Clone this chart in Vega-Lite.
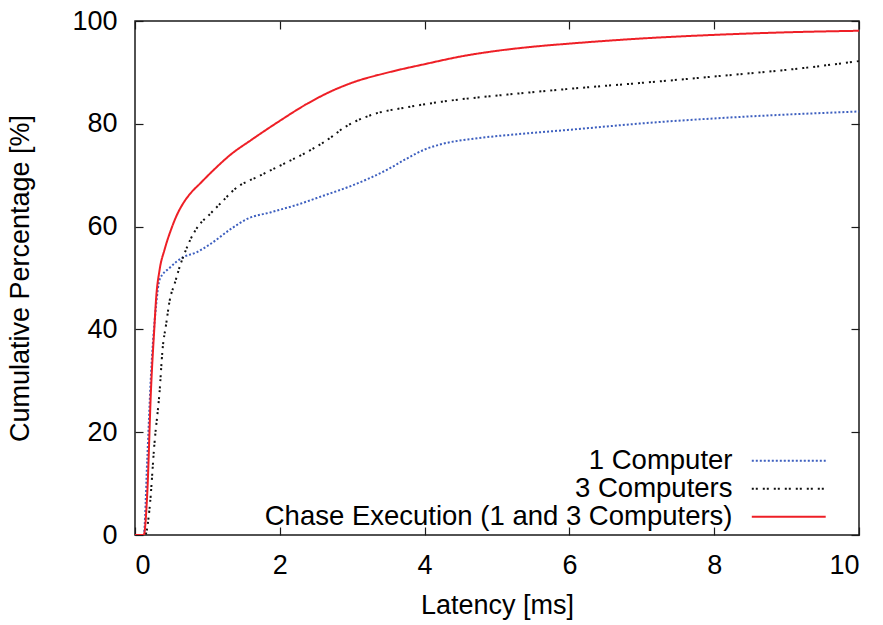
{
  "$schema": "https://vega.github.io/schema/vega-lite/v6.json",
  "width": 724,
  "height": 514,
  "autosize": {"type": "none"},
  "padding": {"left": 135, "top": 21, "right": 24, "bottom": 90},
  "background": "white",
  "config": {
    "font": "Liberation Sans",
    "view": {"stroke": "#1a1a1a", "strokeWidth": 1.5},
    "axis": {
      "grid": false,
      "domain": false,
      "tickSize": -8,
      "tickColor": "#1a1a1a",
      "tickWidth": 1.2,
      "labelFont": "Liberation Sans",
      "labelFontSize": 27,
      "labelColor": "black",
      "titleFont": "Liberation Sans",
      "titleFontSize": 27,
      "titleFontWeight": "normal",
      "titleColor": "black"
    }
  },
  "data": {
    "values": [
      {"series": "1 Computer", "latency": 0, "pct": 0},
      {"series": "1 Computer", "latency": 0.12, "pct": 0},
      {"series": "1 Computer", "latency": 0.17, "pct": 15},
      {"series": "1 Computer", "latency": 0.22, "pct": 31},
      {"series": "1 Computer", "latency": 0.29, "pct": 44.5},
      {"series": "1 Computer", "latency": 0.34, "pct": 49.7},
      {"series": "1 Computer", "latency": 0.48, "pct": 52},
      {"series": "1 Computer", "latency": 0.66, "pct": 54},
      {"series": "1 Computer", "latency": 0.85, "pct": 55},
      {"series": "1 Computer", "latency": 1.04, "pct": 56.6},
      {"series": "1 Computer", "latency": 1.32, "pct": 59.5},
      {"series": "1 Computer", "latency": 1.55, "pct": 61.5},
      {"series": "1 Computer", "latency": 1.88, "pct": 62.8},
      {"series": "1 Computer", "latency": 2.25, "pct": 64.3},
      {"series": "1 Computer", "latency": 2.6, "pct": 66},
      {"series": "1 Computer", "latency": 3.0, "pct": 68},
      {"series": "1 Computer", "latency": 3.5, "pct": 71.2},
      {"series": "1 Computer", "latency": 3.75, "pct": 73.2},
      {"series": "1 Computer", "latency": 4.0, "pct": 75},
      {"series": "1 Computer", "latency": 4.25, "pct": 76.1},
      {"series": "1 Computer", "latency": 4.74, "pct": 77.2},
      {"series": "1 Computer", "latency": 5.3, "pct": 78},
      {"series": "1 Computer", "latency": 5.97, "pct": 78.8},
      {"series": "1 Computer", "latency": 7.2, "pct": 80.3},
      {"series": "1 Computer", "latency": 8.44, "pct": 81.4},
      {"series": "1 Computer", "latency": 10, "pct": 82.4},
      {"series": "3 Computers", "latency": 0, "pct": 0},
      {"series": "3 Computers", "latency": 0.14, "pct": 0},
      {"series": "3 Computers", "latency": 0.2, "pct": 5},
      {"series": "3 Computers", "latency": 0.27, "pct": 18},
      {"series": "3 Computers", "latency": 0.34, "pct": 28},
      {"series": "3 Computers", "latency": 0.38, "pct": 36},
      {"series": "3 Computers", "latency": 0.43, "pct": 41},
      {"series": "3 Computers", "latency": 0.48, "pct": 45.7},
      {"series": "3 Computers", "latency": 0.55, "pct": 49},
      {"series": "3 Computers", "latency": 0.62, "pct": 52.3},
      {"series": "3 Computers", "latency": 0.69, "pct": 55},
      {"series": "3 Computers", "latency": 0.78, "pct": 57.9},
      {"series": "3 Computers", "latency": 0.88, "pct": 60.2},
      {"series": "3 Computers", "latency": 1.04, "pct": 62.5},
      {"series": "3 Computers", "latency": 1.2, "pct": 64.8},
      {"series": "3 Computers", "latency": 1.37, "pct": 67.2},
      {"series": "3 Computers", "latency": 1.74, "pct": 70},
      {"series": "3 Computers", "latency": 2.11, "pct": 72.6},
      {"series": "3 Computers", "latency": 2.44, "pct": 75},
      {"series": "3 Computers", "latency": 2.72, "pct": 77.5},
      {"series": "3 Computers", "latency": 2.86, "pct": 79},
      {"series": "3 Computers", "latency": 3.26, "pct": 81.7},
      {"series": "3 Computers", "latency": 3.75, "pct": 83.2},
      {"series": "3 Computers", "latency": 4.24, "pct": 84.3},
      {"series": "3 Computers", "latency": 5.23, "pct": 85.8},
      {"series": "3 Computers", "latency": 6, "pct": 86.8},
      {"series": "3 Computers", "latency": 7.2, "pct": 88.2},
      {"series": "3 Computers", "latency": 8, "pct": 89.2},
      {"series": "3 Computers", "latency": 9.2, "pct": 90.8},
      {"series": "3 Computers", "latency": 10, "pct": 92.2},
      {"series": "Chase Execution (1 and 3 Computers)", "latency": 0, "pct": 0},
      {"series": "Chase Execution (1 and 3 Computers)", "latency": 0.12, "pct": 0},
      {"series": "Chase Execution (1 and 3 Computers)", "latency": 0.17, "pct": 8.3},
      {"series": "Chase Execution (1 and 3 Computers)", "latency": 0.22, "pct": 28},
      {"series": "Chase Execution (1 and 3 Computers)", "latency": 0.27, "pct": 41},
      {"series": "Chase Execution (1 and 3 Computers)", "latency": 0.29, "pct": 45.7},
      {"series": "Chase Execution (1 and 3 Computers)", "latency": 0.34, "pct": 51.6},
      {"series": "Chase Execution (1 and 3 Computers)", "latency": 0.41, "pct": 55.6},
      {"series": "Chase Execution (1 and 3 Computers)", "latency": 0.5, "pct": 59.5},
      {"series": "Chase Execution (1 and 3 Computers)", "latency": 0.58, "pct": 62.3},
      {"series": "Chase Execution (1 and 3 Computers)", "latency": 0.66, "pct": 64.4},
      {"series": "Chase Execution (1 and 3 Computers)", "latency": 0.75, "pct": 66.2},
      {"series": "Chase Execution (1 and 3 Computers)", "latency": 0.9, "pct": 68.4},
      {"series": "Chase Execution (1 and 3 Computers)", "latency": 1.1, "pct": 71.2},
      {"series": "Chase Execution (1 and 3 Computers)", "latency": 1.32, "pct": 74},
      {"series": "Chase Execution (1 and 3 Computers)", "latency": 1.6, "pct": 76.8},
      {"series": "Chase Execution (1 and 3 Computers)", "latency": 1.97, "pct": 80.3},
      {"series": "Chase Execution (1 and 3 Computers)", "latency": 2.39, "pct": 84},
      {"series": "Chase Execution (1 and 3 Computers)", "latency": 2.72, "pct": 86.4},
      {"series": "Chase Execution (1 and 3 Computers)", "latency": 3.0, "pct": 88},
      {"series": "Chase Execution (1 and 3 Computers)", "latency": 3.5, "pct": 90},
      {"series": "Chase Execution (1 and 3 Computers)", "latency": 4.0, "pct": 91.6},
      {"series": "Chase Execution (1 and 3 Computers)", "latency": 4.5, "pct": 93.1},
      {"series": "Chase Execution (1 and 3 Computers)", "latency": 5.0, "pct": 94.2},
      {"series": "Chase Execution (1 and 3 Computers)", "latency": 5.5, "pct": 95.0},
      {"series": "Chase Execution (1 and 3 Computers)", "latency": 6, "pct": 95.6},
      {"series": "Chase Execution (1 and 3 Computers)", "latency": 7, "pct": 96.6},
      {"series": "Chase Execution (1 and 3 Computers)", "latency": 8, "pct": 97.3},
      {"series": "Chase Execution (1 and 3 Computers)", "latency": 9, "pct": 97.8},
      {"series": "Chase Execution (1 and 3 Computers)", "latency": 10, "pct": 98.1}
    ]
  },
  "resolve": {"axis": {"x": "independent", "y": "independent"}},
  "layer": [
    {
      "mark": {"type": "line", "strokeWidth": 2, "interpolate": "monotone", "clip": true},
      "encoding": {
        "x": {
          "field": "latency", "type": "quantitative",
          "scale": {"domain": [0, 10], "nice": false},
          "axis": {"title": "Latency [ms]", "orient": "bottom", "values": [0, 2, 4, 6, 8, 10], "labelPadding": 25, "titlePadding": 14}
        },
        "y": {
          "field": "pct", "type": "quantitative",
          "scale": {"domain": [0, 100], "nice": false},
          "axis": {"title": "Cumulative Percentage [%]", "orient": "left", "values": [0, 20, 40, 60, 80, 100], "labelPadding": 26, "titlePadding": 37}
        },
        "color": {
          "field": "series", "type": "nominal",
          "scale": {
            "domain": ["1 Computer", "3 Computers", "Chase Execution (1 and 3 Computers)"],
            "range": ["#3d5fbf", "#111111", "#ee1f26"]
          },
          "legend": {
            "title": null,
            "orient": "none",
            "legendX": 640,
            "legendY": 426,
            "symbolType": "M-3.08,0H3.08",
            "symbolSize": 576,
            "symbolStrokeWidth": 2,
            "labelAlign": "right",
            "labelOffset": -70,
            "labelFontSize": 27.5,
            "labelFont": "Liberation Sans",
            "labelColor": "black",
            "labelLimit": 600,
            "rowPadding": -4.5,
            "padding": 0
          }
        },
        "strokeDash": {
          "field": "series", "type": "nominal",
          "scale": {
            "domain": ["1 Computer", "3 Computers", "Chase Execution (1 and 3 Computers)"],
            "range": [[2, 2], [2, 2, 2, 5], [1, 0]]
          },
          "legend": null
        }
      }
    },
    {
      "mark": {"type": "line", "opacity": 0},
      "encoding": {
        "x": {
          "field": "latency", "type": "quantitative",
          "axis": {"title": null, "orient": "top", "labels": false, "values": [0, 2, 4, 6, 8, 10]}
        },
        "y": {
          "field": "pct", "type": "quantitative",
          "axis": {"title": null, "orient": "right", "labels": false, "values": [0, 20, 40, 60, 80, 100]}
        }
      }
    }
  ]
}
